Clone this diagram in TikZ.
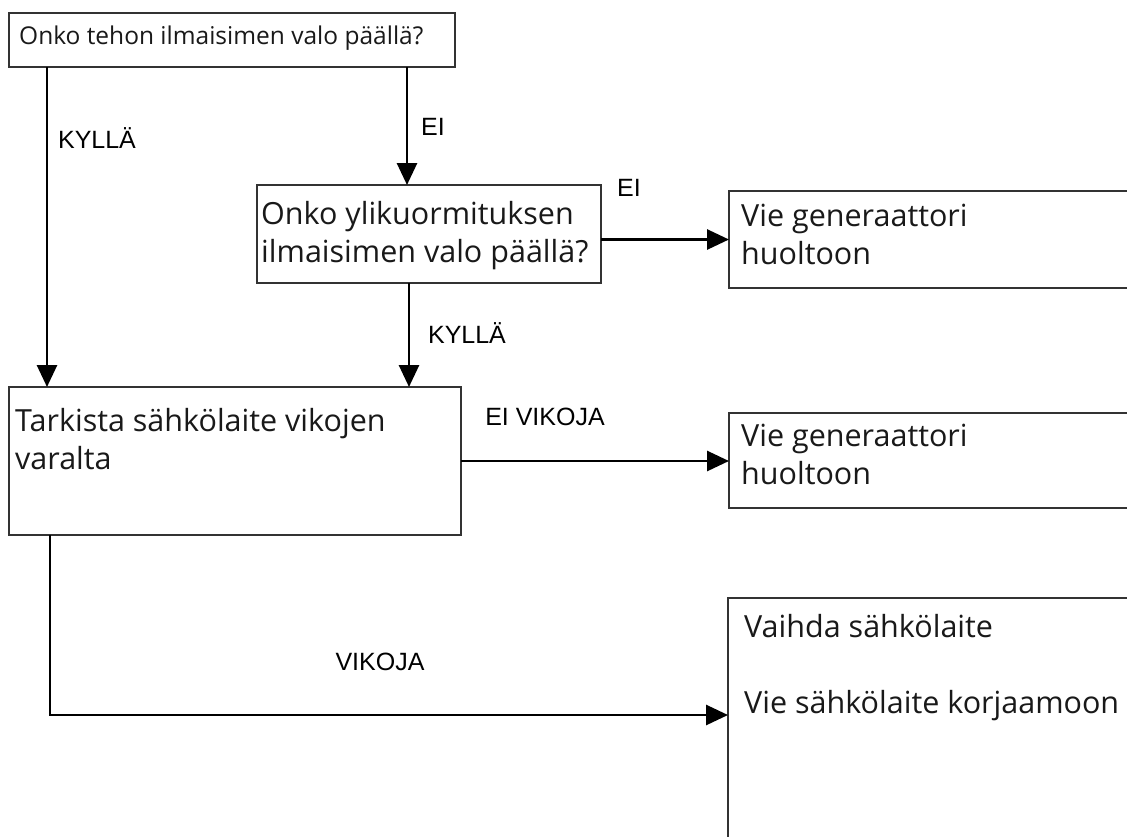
\documentclass[tikz,border=0pt]{standalone}
\usepackage{fontspec}
\setmainfont{Open Sans}
\newfontfamily\labfont{Liberation Sans}
\usetikzlibrary{arrows.meta,calc}
\begin{document}
\begin{tikzpicture}[x=1pt,y=-1pt,
 box/.style={draw=black!80,line width=2pt,anchor=north west,inner sep=0pt,outer sep=0pt},
 txt/.style={anchor=north west,inner sep=0pt,align=left,font=\fontsize{30.5}{38}\selectfont,text=black!90},
 smalltxt/.style={anchor=north west,inner sep=0pt,align=left,font=\fontsize{24.5}{30}\selectfont,text=black!90},
 lab/.style={inner sep=0pt,font=\labfont\fontsize{25}{30}\selectfont,text=black},
 arr/.style={line width=2.8pt,-{Triangle[length=22pt,width=20pt]}},
 ln/.style={line width=2.8pt}]
\useasboundingbox (0,0) rectangle (1127,836);
\clip (0,0) rectangle (1127,836);
\fill[white] (0,0) rectangle (1127,836);
% boxes
\node[box,minimum width=446pt,minimum height=54pt] (tp) at (9,13) {};
\node[box,minimum width=344pt,minimum height=98pt] (q2) at (257,185) {};
\node[box,minimum width=420pt,minimum height=97pt] (s1) at (729,191) {};
\node[box,minimum width=452pt,minimum height=148pt] (chk) at (9,387) {};
\node[box,minimum width=420pt,minimum height=95pt] (s2) at (729,413) {};
\node[box,minimum width=420pt,minimum height=260pt] (s3) at (728,598) {};
% texts
\node[smalltxt] (tpt) at (19,26) {Onko tehon ilmaisimen valo päällä?};
\node[txt] (q2t) at (261,201) {Onko ylikuormituksen\\ilmaisimen valo päällä?};
\node[txt] (s1t) at (741,204) {Vie generaattori\\huoltoon};
\node[txt] (chkt) at (15,408) {Tarkista sähkölaite vikojen\\varalta};
\node[txt] (s2t) at (741,424) {Vie generaattori\\huoltoon};
\node[txt] (s3t) at (744,614) {Vaihda sähkölaite\\[38pt]Vie sähkölaite korjaamoon};
% connectors
\draw[arr] ([xshift=38pt]tp.south west) -- ([xshift=38pt]chk.north west);
\draw[arr] ([xshift=398pt]tp.south west) -- ([xshift=150pt]q2.north west);
\draw[arr] (s1.west -| q2.east) -- (s1.west);
\draw[arr] ([xshift=152pt]q2.south west) -- ([xshift=400pt]chk.north west);
\draw[arr] (chk.east) -- (chk.east -| s2.west);
\draw[arr] ([xshift=41pt]chk.south west) |- ([yshift=-117pt]s3.north west);
% labels
\node[lab] (l1) at (97,138) {KYLLÄ};
\node[lab] (l2) at (433,127) {EI};
\node[lab] (l3) at (629,188) {EI};
\node[lab] (l4) at (467,333) {KYLLÄ};
\node[lab] (l5) at (545,417) {EI VIKOJA};
\node[lab] (l6) at (380,662) {VIKOJA};
\end{tikzpicture}
\end{document}
